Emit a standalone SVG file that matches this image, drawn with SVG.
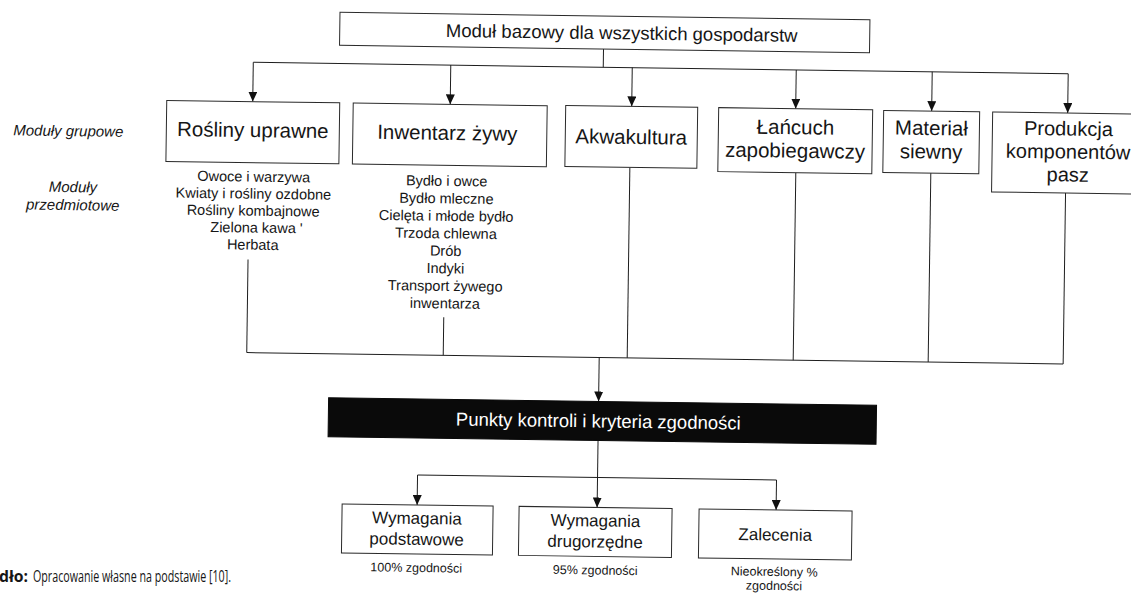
<svg xmlns="http://www.w3.org/2000/svg" width="1131" height="593" viewBox="0 0 1131 593">
<style>
.bg{fill:#fff}
.box{fill:#fff;stroke:#2a2a2a;stroke-width:1}
.blk{fill:#0a0a0a;stroke:#0a0a0a;stroke-width:1}
.ln{fill:none;stroke:#1e1e1e;stroke-width:1}
text{font-family:"Liberation Sans",Arial,sans-serif;fill:#161616}
.t18{font-size:18.5px;text-anchor:middle}
.t20{font-size:20.5px;text-anchor:middle}
.t19{font-size:20px;text-anchor:middle}
.t17{font-size:17px;text-anchor:middle}
.sub{font-size:14.5px;text-anchor:middle}
.lab{font-size:15px;font-style:italic}
.pct{font-size:12.5px;text-anchor:middle}
.wt{fill:#fff}
.cap{font-family:"Open Sans","Liberation Sans",sans-serif;font-size:15.5px}
</style>
<defs>
<marker id="arr" markerUnits="userSpaceOnUse" markerWidth="10" markerHeight="9" viewBox="0 0 10 9" refX="10" refY="4.5" orient="auto">
<path d="M0,0 L10,4.5 L0,9 z" fill="#111"/>
</marker>
</defs>
<rect class="bg" x="0" y="0" width="1131" height="593"/>
<g id="figure" transform="rotate(0.8 565 300)">
<g id="connectors">
<path class="ln" d="M600,48.5 V66.7"/>
<path class="ln" d="M250,66.7 H1065"/>
<path class="ln" d="M250,66.7 V106" marker-end="url(#arr)"/>
<path class="ln" d="M447.5,66.7 V106" marker-end="url(#arr)"/>
<path class="ln" d="M629,66.7 V105.5" marker-end="url(#arr)"/>
<path class="ln" d="M793,66.7 V105.5" marker-end="url(#arr)"/>
<path class="ln" d="M929,66.7 V106" marker-end="url(#arr)"/>
<path class="ln" d="M1065,66.7 V106" marker-end="url(#arr)"/>
<path class="ln" d="M247.5,264 V357"/>
<path class="ln" d="M444,319 V357"/>
<path class="ln" d="M628,166.5 V357"/>
<path class="ln" d="M794,169.5 V357"/>
<path class="ln" d="M929,168 V357"/>
<path class="ln" d="M1064,186 V357"/>
<path class="ln" d="M247.5,357 H1064"/>
<path class="ln" d="M600,357 V401" marker-end="url(#arr)"/>
<path class="ln" d="M600,440 V507" marker-end="url(#arr)"/>
<path class="ln" d="M420,477 H779"/>
<path class="ln" d="M420,477 V507" marker-end="url(#arr)"/>
<path class="ln" d="M779,477 V507" marker-end="url(#arr)"/>
</g>
<g id="base">
<rect class="box" x="336" y="15.5" width="530" height="33"/>
<text class="t18" x="618" y="38.6">Moduł bazowy dla wszystkich gospodarstw</text>
</g>
<g id="labels">
<text class="lab" x="11" y="143">Moduły grupowe</text>
<text class="lab" x="71.5" y="199" text-anchor="middle">Moduły</text>
<text class="lab" x="71.5" y="217" text-anchor="middle">przedmiotowe</text>
</g>
<g id="rosliny">
<rect class="box" x="164" y="106" width="173" height="61"/>
<text class="t20" x="250.5" y="141.5">Rośliny uprawne</text>
<text class="sub" x="252" y="186">Owoce i warzywa</text>
<text class="sub" x="252" y="203">Kwiaty i rośliny ozdobne</text>
<text class="sub" x="252" y="220">Rośliny kombajnowe</text>
<text class="sub" x="255.5" y="237">Zielona kawa '</text>
<text class="sub" x="252" y="254">Herbata</text>
</g>
<g id="inwentarz">
<rect class="box" x="350.5" y="106" width="194" height="61"/>
<text class="t20" x="445" y="141.5">Inwentarz żywy</text>
<text class="sub" x="445" y="187.5">Bydło i owce</text>
<text class="sub" x="445" y="205">Bydło mleczne</text>
<text class="sub" x="445" y="222.5">Cielęta i młode bydło</text>
<text class="sub" x="445" y="240">Trzoda chlewna</text>
<text class="sub" x="445" y="257.5">Drób</text>
<text class="sub" x="445" y="275">Indyki</text>
<text class="sub" x="445" y="292.5">Transport żywego</text>
<text class="sub" x="445" y="310">inwentarza</text>
</g>
<g id="akwakultura">
<rect class="box" x="563" y="105.5" width="132" height="61"/>
<text class="t20" x="629" y="143">Akwakultura</text>
</g>
<g id="lancuch">
<rect class="box" x="716" y="105.5" width="154" height="64"/>
<text class="t20" x="793" y="131">Łańcuch</text>
<text class="t20" x="793" y="154.5">zapobiegawczy</text>
</g>
<g id="material">
<rect class="box" x="881" y="106" width="96" height="62"/>
<text class="t20" x="929" y="130">Materiał</text>
<text class="t20" x="929" y="153.5">siewny</text>
</g>
<g id="produkcja">
<rect class="box" x="990" y="106" width="155" height="80"/>
<text class="t19" x="1066" y="128.5">Produkcja</text>
<text class="t19" x="1066" y="151.5">komponentów</text>
<text class="t19" x="1066" y="174.5">pasz</text>
</g>
<g id="punkty">
<rect class="blk" x="330" y="401" width="548" height="39"/>
<text class="t18 wt" x="600" y="427">Punkty kontroli i kryteria zgodności</text>
</g>
<g id="podstawowe">
<rect class="box" x="345" y="507" width="151" height="49"/>
<text class="t17" x="420" y="526">Wymagania</text>
<text class="t17" x="420" y="547">podstawowe</text>
<text class="pct" x="420" y="574">100% zgodności</text>
</g>
<g id="drugorzedne">
<rect class="box" x="522" y="507" width="153" height="49"/>
<text class="t17" x="598.5" y="526">Wymagania</text>
<text class="t17" x="598.5" y="547">drugorzędne</text>
<text class="pct" x="599" y="574">95% zgodności</text>
</g>
<g id="zalecenia">
<rect class="box" x="702" y="507" width="153" height="49"/>
<text class="t17" x="778.5" y="537.5">Zalecenia</text>
<text class="pct" x="778" y="573">Nieokreślony %</text>
<text class="pct" x="778" y="587">zgodności</text>
</g>
</g>
<g id="caption">
<text class="cap" x="-1" y="582" font-weight="bold" textLength="29" lengthAdjust="spacingAndGlyphs">dło:</text>
<text class="cap" x="33" y="582" textLength="198" lengthAdjust="spacingAndGlyphs">Opracowanie własne na podstawie [10].</text>
</g>
</svg>
